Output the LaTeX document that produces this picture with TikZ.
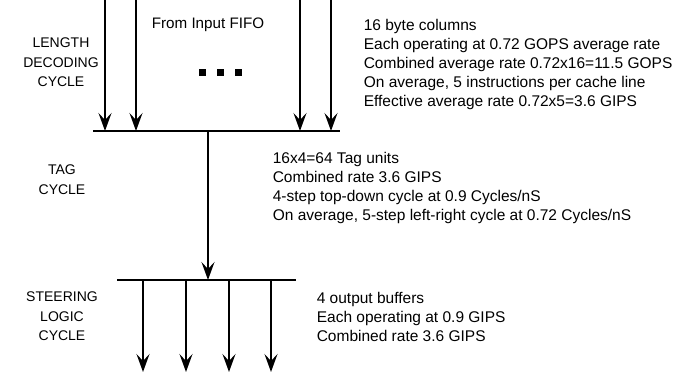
\documentclass[tikz,border=0pt]{standalone}
\usepackage{fontspec}
\setmainfont{Liberation Sans}
\usetikzlibrary{arrows.meta,positioning}

\begin{document}
\begin{tikzpicture}[x=1pt,y=-1pt,line width=1.6pt,
  flow/.style={-{Stealth[length=18pt,width=13pt,inset=7pt]}},
  cyclelabel/.style={align=center,anchor=north,inner sep=0pt,
    font=\fontsize{14}{19.5}\selectfont},
  note/.style={align=left,anchor=north west,inner sep=0pt,
    font=\fontsize{15.5}{19}\selectfont}]
  \useasboundingbox (0,0) rectangle (689,378);

  % length decoding: byte columns onto the top bus
  \coordinate (topL) at (93,131);
  \coordinate (topR) at (340,131);
  \draw (topL) -- (topR);
  \foreach \x [count=\i] in {105,136,300,331}
  {
    \coordinate (in\i) at (\x,0);
    \draw[flow] (in\i) -- (in\i |- topL);
  }
  \node[inner sep=0pt,font=\fontsize{15.2}{16}\selectfont] (fifo) at (208,25) {From Input FIFO};
  \foreach \x in {202,220,238}
    \fill (\x-3.5,68.5) rectangle ++(7,7);

  % tag cycle
  \coordinate (stem) at (208,131);
  \coordinate (botL) at (117,280);
  \coordinate (botR) at (296,280);
  \draw[flow] (stem) -- (stem |- botL);
  \draw (botL) -- (botR);

  % steering logic: output buffers
  \foreach \x [count=\i] in {143,186,229,271}
  {
    \coordinate (out\i) at (\x,372);
    \draw[flow] (out\i |- botL) -- (out\i);
  }

  % cycle names
  \node[cyclelabel] (lencyc) at (61,37) {LENGTH\\DECODING\\CYCLE};
  \node[cyclelabel] (tagcyc) at (62,164) {TAG\\CYCLE};
  \node[cyclelabel] (steercyc) at (62,291) {STEERING\\LOGIC\\CYCLE};

  % notes
  \node[note] (lennote) at (363,18) {16 byte columns\\
    Each operating at 0.72 GOPS average rate\\
    Combined average rate 0.72x16=11.5 GOPS\\
    On average, 5 instructions per cache line\\
    Effective average rate 0.72x5=3.6 GIPS};
  \node[note] (tagnote) at (272,151) {16x4=64 Tag units\\
    Combined rate 3.6 GIPS\\
    4-step top-down cycle at 0.9 Cycles/nS\\
    On average, 5-step left-right cycle at 0.72 Cycles/nS};
  \node[note] (steernote) at (316,291) {4 output buffers\\
    Each operating at 0.9 GIPS\\
    Combined rate 3.6 GIPS};
\end{tikzpicture}
\end{document}
